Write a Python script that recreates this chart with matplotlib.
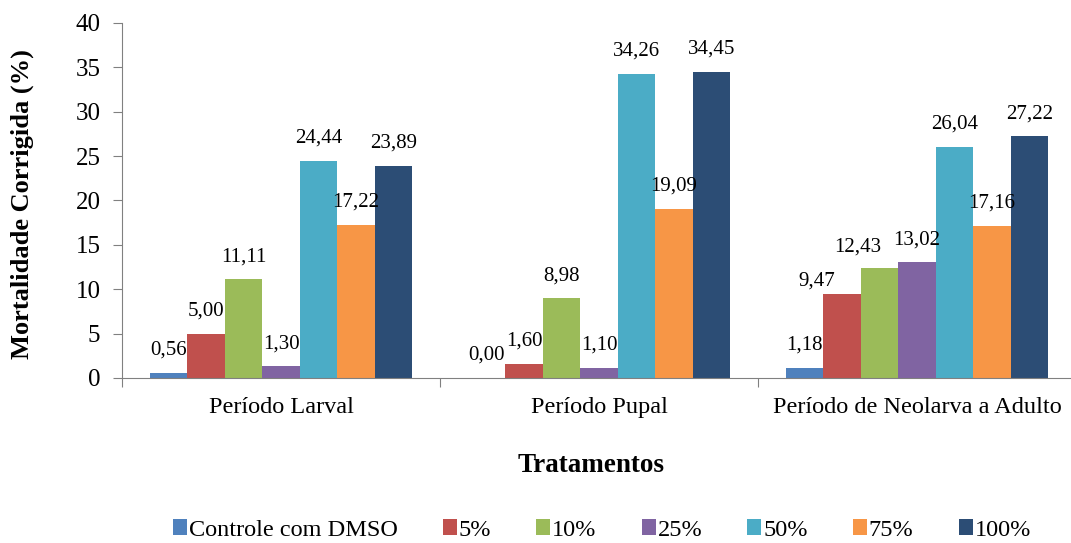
import numpy as np
import matplotlib.pyplot as plt

plt.rcParams['font.family'] = ['Liberation Serif', 'DejaVu Serif']

# Data
categorias = ['Período Larval', 'Período Pupal', 'Período de Neolarva a Adulto']
tratamentos = ['Controle com DMSO', '5%', '10%', '25%', '50%', '75%', '100%']
controle = [0.56, 0.00, 1.18]
t5 = [5.00, 1.60, 9.47]
t10 = [11.11, 8.98, 12.43]
t25 = [1.30, 1.10, 13.02]
t50 = [24.44, 34.26, 26.04]
t75 = [17.22, 19.09, 17.16]
t100 = [23.89, 34.45, 27.22]

series = [controle, t5, t10, t25, t50, t75, t100]
cores = ['#4F81BD', '#C0504D', '#9BBB59', '#8064A2', '#4BACC6', '#F79646', '#2C4D75']

# labels that Excel pushed aside to avoid overlapping (serie, grupo) -> (dx, dy) in points
ajustes = {(1, 2): (-18, -7), (2, 2): (-16, -1.5)}

fig = plt.figure(figsize=(10.71, 5.43), dpi=100)
ax = fig.add_axes([0.1139, 0.3039, 0.8861, 0.6538])

x = np.arange(len(categorias))
w = 0.118
for i, (vals, cor) in enumerate(zip(series, cores)):
    pos = x + (i - 3) * w
    ax.bar(pos, vals, width=w, color=cor, label=tratamentos[i])
    for j, (p, v) in enumerate(zip(pos, vals)):
        dx, dy = ajustes.get((i, j), (0, 0))
        ax.annotate(f'{v:.2f}'.replace('.', ','), (p, v), xytext=(dx, 9.5 + dy),
                    textcoords='offset points', ha='center', va='bottom', fontsize=15)

ax.set_xlim(-0.5, 2.484)
ax.set_ylim(0, 40)
ax.set_yticks(range(0, 41, 5))
ax.set_xticks([-0.5, 0.5, 1.5])
ax.set_xticklabels([])
ax.set_xticks(x, minor=True)
ax.set_xticklabels(categorias, minor=True, fontsize=17.5)
ax.tick_params(axis='x', which='minor', length=0, pad=14)
ax.tick_params(axis='x', which='major', length=6.5, color='#808080')
ax.tick_params(axis='y', labelsize=18, length=6.5, color='#808080', pad=9)

for s in ['top', 'right']:
    ax.spines[s].set_visible(False)
for s in ['left', 'bottom']:
    ax.spines[s].set_color('#808080')

ax.set_ylabel('Mortalidade Corrigida (%)', fontsize=19, fontweight='bold')
ax.yaxis.set_label_coords(-0.093, 0.49)
ax.set_xlabel('Tratamentos', fontsize=19.5, fontweight='bold')
ax.xaxis.set_label_coords(0.494, -0.211)

fig.legend(loc='center', bbox_to_anchor=(0.562, 0.024), ncol=7, frameon=False,
           prop={'family': 'Liberation Serif', 'size': 17.5},
           handlelength=0.58, handleheight=0.58, handletextpad=0.08,
           columnspacing=1.85)

fig.savefig('out.png', dpi=100)
